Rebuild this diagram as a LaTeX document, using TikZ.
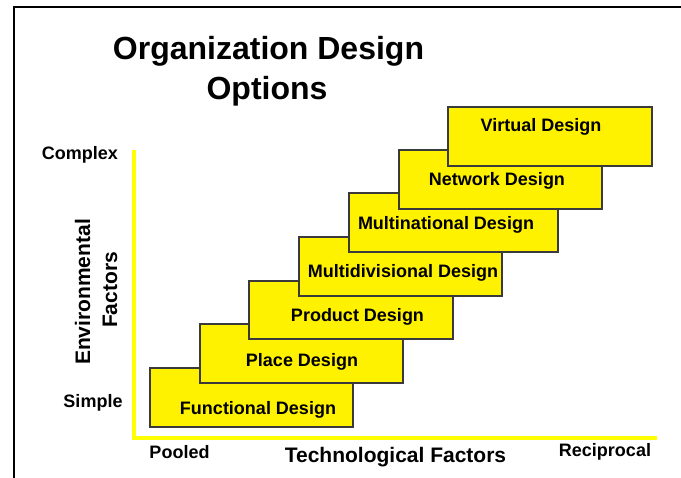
\documentclass[tikz,border=0pt]{standalone}
\usepackage{fontspec}
\setmainfont{Liberation Sans}
\definecolor{boxline}{HTML}{3A3A3A}
\definecolor{axisyellow}{HTML}{FFFF00}
\begin{document}
\begin{tikzpicture}[x=1pt,y=1pt,
  box/.style={draw=boxline, fill=yellow, line width=1.1pt, inner sep=0pt, rectangle},
  lab/.style={font=\fontsize{18}{20}\selectfont\bfseries, inner sep=0pt, anchor=base},
  axislab/.style={font=\fontsize{18}{20}\selectfont\bfseries, inner sep=0pt, anchor=base},
  axistitle/.style={font=\fontsize{21}{25}\selectfont\bfseries, inner sep=0pt, anchor=base},
  titlestyle/.style={font=\fontsize{32}{40}\selectfont\bfseries, inner sep=0pt, anchor=base},
  frameline/.style={draw=black, line width=2pt},
  axisline/.style={draw=axisyellow, line width=4.5pt}]
\useasboundingbox (0,0) rectangle (681,478);
% frame
\coordinate (fb) at (13.5,0);
\coordinate (ftl) at (13.5,471);
\coordinate (ftr) at (681,471);
\draw[frameline] (fb) -- (ftl) -- (ftr);
% title
\node[titlestyle] (t1) at (268.5,418.5) {Organization Design};
\node[titlestyle] (t2) at (267,378.5) {Options};
% axes
\coordinate (atop) at (134,328);
\coordinate (aorig) at (134,40);
\coordinate (aright) at (657,40);
\draw[axisline] (atop) -- (aorig) -- (aright);
% boxes (drawn bottom to top)
\node[box, minimum width=203pt, minimum height=59pt] (b1) at (251.5,80.5) {};
\node[lab] (l1) at (258,63) {Functional Design};
\node[box, minimum width=203pt, minimum height=59pt] (b2) at (301.5,124.5) {};
\node[lab] (l2) at (302,111) {Place Design};
\node[box, minimum width=204pt, minimum height=58pt] (b3) at (351,168) {};
\node[lab] (l3) at (357.5,156) {Product Design};
\node[box, minimum width=203pt, minimum height=59pt] (b4) at (400.5,211.5) {};
\node[lab] (l4) at (403,200) {Multidivisional Design};
\node[box, minimum width=209pt, minimum height=59pt] (b5) at (453.5,255.5) {};
\node[lab] (l5) at (446,248) {Multinational Design};
\node[box, minimum width=203pt, minimum height=59pt] (b6) at (500.5,298.5) {};
\node[lab] (l6) at (497,292) {Network Design};
\node[box, minimum width=204pt, minimum height=59pt] (b7) at (550,341.5) {};
\node[lab] (l7) at (541,346) {Virtual Design};
% axis labels
\node[axislab] (cx) at (80,318) {Complex};
\node[axislab] (sp) at (93,70) {Simple};
\node[axislab] (pl) at (179.5,19) {Pooled};
\node[axislab] (rc) at (605,21) {Reciprocal};
\node[axistitle] (tf) at (395.5,15) {Technological Factors};
\node[axistitle, rotate=90] (ef1) at (90,186) {Environmental};
\node[axistitle, rotate=90] (ef2) at (117,188) {Factors};
\end{tikzpicture}
\end{document}
